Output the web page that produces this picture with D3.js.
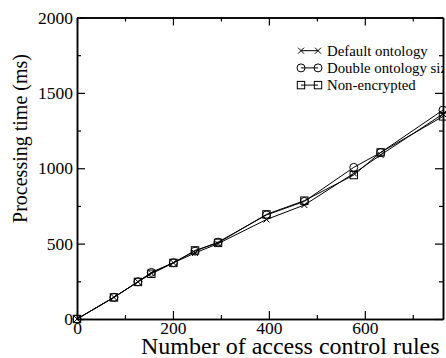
<!DOCTYPE html>
<html>
<head>
<meta charset="utf-8">
<script src="https://d3js.org/d3.v7.min.js"></script>
</head>
<body style="margin:0">
<script>
var w = 446, h = 358;

// data
var rules      = [0, 77, 127, 155, 201, 246, 294, 395, 474, 577, 633, 763];
var defaultOnt = [0, 144, 247, 305, 373, 438, 500, 660, 756, 966, 1088, 1360];
var doubleOnt  = [0, 144, 247, 309, 374, 450, 510, 690, 780, 1006, 1104, 1386];
var nonEnc     = [0, 143, 246, 300, 372, 455, 505, 694, 785, 955, 1105, 1344];
var seriesNames = ["Default ontology", "Double ontology size", "Non-encrypted"];
var markers = ["cross", "circle", "square"];
var xTicks = [0, 200, 400, 600];
var xMinor = [100, 300, 500, 700];
var yTicks = [0, 500, 1000, 1500, 2000];
var yMinor = [250, 750, 1250, 1750];

var padL = 77, padR = 443, padT = 17.5, padB = 319;
var fontName = "Liberation Serif";

var svg = d3.select("body").append("svg")
  .attr("width", w)
  .attr("height", h)
  .style("font-family", fontName);

var x = d3.scaleLinear().domain([0, 763]).range([padL, padR]);
var y = d3.scaleLinear().domain([0, 2000]).range([padB, padT]);

svg.append("defs").append("clipPath").attr("id", "plotclip")
  .append("rect").attr("x", padL).attr("y", padT)
  .attr("width", padR - padL).attr("height", padB - padT);

// frame (mirror axes on top / right, ticks inside)
function axisGroup(axis, tx, ty) {
  var g = svg.append("g")
    .attr("transform", "translate(" + tx + "," + ty + ")")
    .call(axis);
  g.attr("font-family", null);
  g.select(".domain").attr("stroke", "#000").attr("stroke-width", 1.5);
  g.selectAll(".tick line").attr("stroke", "#000").attr("stroke-width", 1.2);
  return g;
}
var blank = function() { return ""; };
var num = d3.format("d");

var xb = axisGroup(d3.axisBottom(x).tickValues(xTicks).tickSizeInner(-8).tickSizeOuter(0).tickPadding(3).tickFormat(num), 0, padB);
axisGroup(d3.axisBottom(x).tickValues(xMinor).tickSizeInner(-4).tickSizeOuter(0).tickFormat(blank), 0, padB);
axisGroup(d3.axisTop(x).tickValues(xTicks).tickSizeInner(-8).tickSizeOuter(0).tickFormat(blank), 0, padT);
axisGroup(d3.axisTop(x).tickValues(xMinor).tickSizeInner(-4).tickSizeOuter(0).tickFormat(blank), 0, padT);

var yl = axisGroup(d3.axisLeft(y).tickValues(yTicks).tickSizeInner(-8).tickSizeOuter(0).tickPadding(4).tickFormat(num), padL, 0);
axisGroup(d3.axisLeft(y).tickValues(yMinor).tickSizeInner(-4).tickSizeOuter(0).tickFormat(blank), padL, 0);
axisGroup(d3.axisRight(y).tickValues(yTicks).tickSizeInner(-8).tickSizeOuter(0).tickFormat(blank), padR, 0);
axisGroup(d3.axisRight(y).tickValues(yMinor).tickSizeInner(-4).tickSizeOuter(0).tickFormat(blank), padR, 0);

xb.selectAll("text").style("font-family", fontName).attr("font-size", 17.5).attr("fill", "#000");
yl.selectAll("text").style("font-family", fontName).attr("font-size", 17.5).attr("fill", "#000");

// axis titles
svg.append("text")
  .attr("x", 141).attr("y", 354)
  .style("font-family", fontName)
  .attr("font-size", 24)
  .text("Number of access control rules");

svg.append("text")
  .attr("transform", "translate(27,138.5) rotate(-90)")
  .attr("text-anchor", "middle")
  .style("font-family", fontName)
  .attr("font-size", 20)
  .text("Processing time (ms)");

// marker shapes
function drawMarker(g, kind, cx, cy) {
  if (kind === "circle") {
    g.append("circle").attr("cx", cx).attr("cy", cy).attr("r", 4)
      .attr("fill", "none").attr("stroke", "#000");
  } else if (kind === "square") {
    g.append("rect").attr("x", cx - 3.7).attr("y", cy - 3.7)
      .attr("width", 7.4).attr("height", 7.4)
      .attr("fill", "none").attr("stroke", "#000");
  } else {
    g.append("path")
      .attr("d", "M" + (cx - 3) + "," + (cy - 3) + "L" + (cx + 3) + "," + (cy + 3) +
                 "M" + (cx - 3) + "," + (cy + 3) + "L" + (cx + 3) + "," + (cy - 3))
      .attr("stroke", "#000");
  }
}

var allSeries = [defaultOnt, doubleOnt, nonEnc];
var line = d3.line()
  .x(function(d) { return x(d[0]); })
  .y(function(d) { return y(d[1]); });

var plot = svg.append("g");
allSeries.forEach(function(vals, i) {
  var pts = rules.map(function(r, j) { return [r, vals[j]]; });
  plot.append("path")
    .datum(pts)
    .attr("d", line)
    .attr("fill", "none")
    .attr("stroke", "#000")
    .attr("stroke-width", 1);
  var mg = plot.append("g");
  pts.forEach(function(p) { drawMarker(mg, markers[i], x(p[0]), y(p[1])); });
});

// legend, clipped at the right frame like the original
var legend = svg.append("g").attr("clip-path", "url(#plotclip)");
seriesNames.forEach(function(name, i) {
  var cy = 50.7 + i * 17.2;
  legend.append("line")
    .attr("x1", 301).attr("x2", 318)
    .attr("y1", cy).attr("y2", cy)
    .attr("stroke", "#000");
  drawMarker(legend, markers[i], 301, cy);
  drawMarker(legend, markers[i], 318, cy);
  legend.append("text")
    .attr("x", 327).attr("y", cy + 4.8)
    .style("font-family", fontName)
    .attr("font-size", 14.8)
    .text(name);
});
</script>
</body>
</html>
